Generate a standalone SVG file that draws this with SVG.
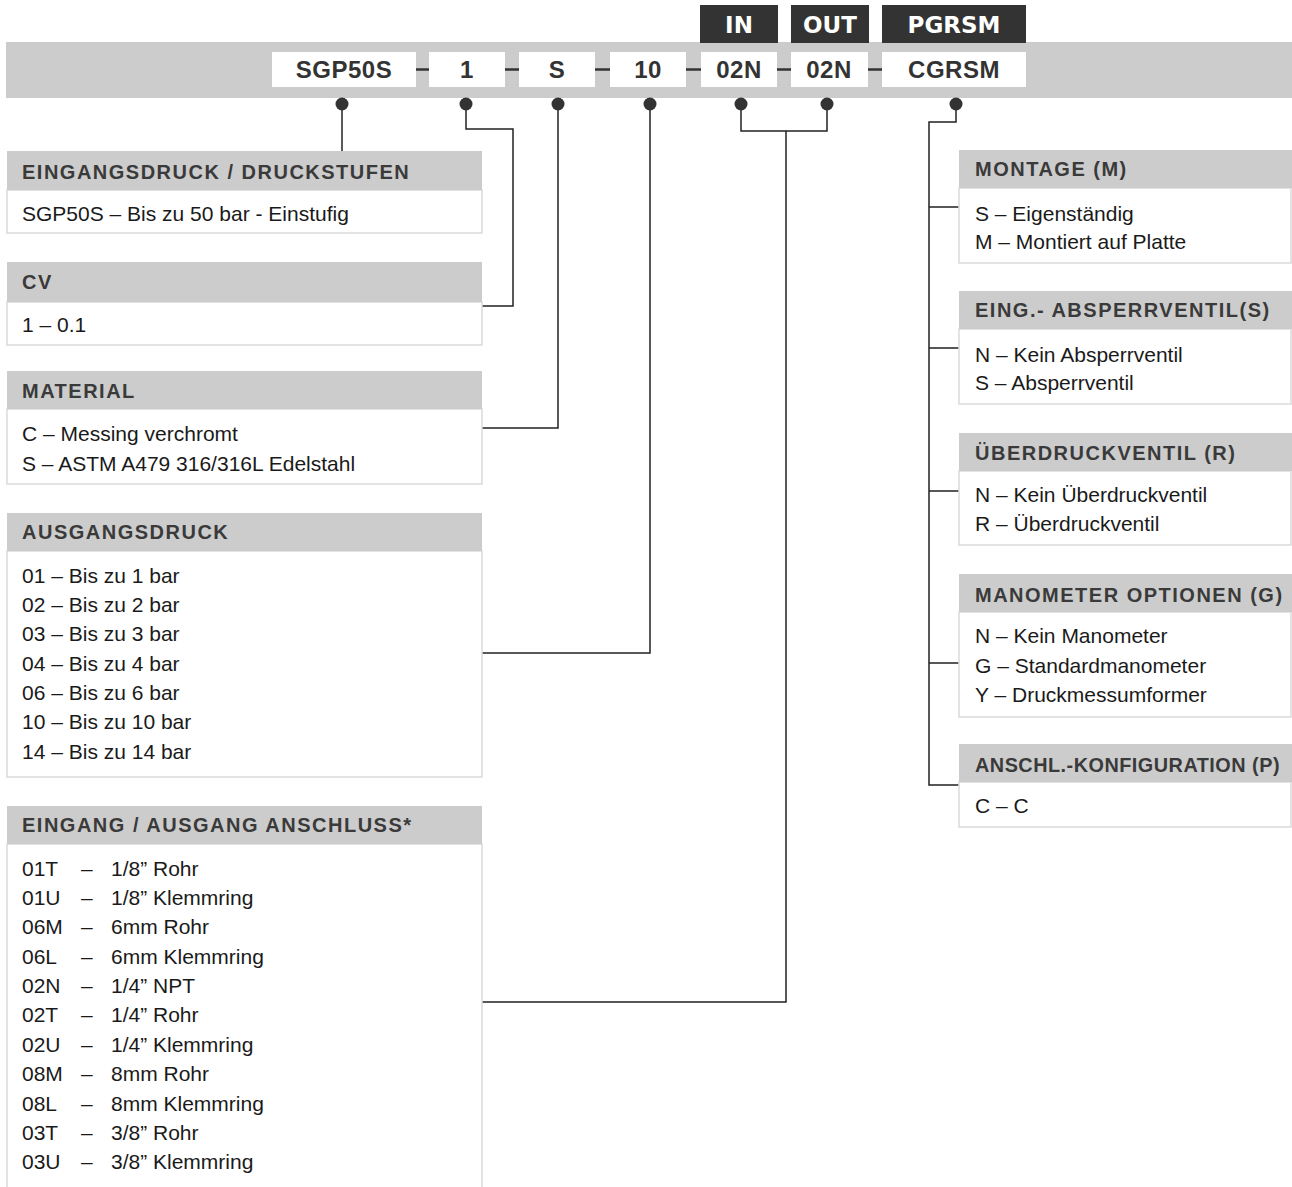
<svg xmlns="http://www.w3.org/2000/svg" width="1292" height="1187" viewBox="0 0 1292 1187">
<style>
.bar{fill:#cccccc}
.code{fill:#ffffff}
.codet{font-family:'Liberation Sans',Arial,sans-serif;font-weight:bold;font-size:24px;fill:#333333;text-anchor:middle;letter-spacing:0.5px}
.tag{fill:#333333}
.tagt{font-family:'DejaVu Sans',Verdana,sans-serif;font-weight:bold;font-size:23px;fill:#ffffff;text-anchor:middle}
.hd{fill:#cccccc}
.bd{fill:#ffffff;stroke:#dadada;stroke-width:1.5}
.ht{font-family:'Liberation Sans',Arial,sans-serif;font-weight:bold;font-size:20px;fill:#3a3a3a;letter-spacing:1.5px}
.bt{font-family:'Liberation Sans',Arial,sans-serif;font-size:21px;fill:#1a1a1a}
.ln{fill:none;stroke:#222222;stroke-width:1.5}
.dash{stroke:#333333;stroke-width:2.5}
.dot{fill:#333333}
</style>
<rect width="1292" height="1187" fill="#ffffff"/>
<g id="header-bar">
<rect class="bar" x="6" y="42" width="1286" height="56"/>
<rect class="tag" x="700" y="5" width="78" height="38"/>
<rect class="tag" x="791" y="5" width="78" height="38"/>
<rect class="tag" x="882" y="5" width="144" height="38"/>
<text class="tagt" x="739" y="33">IN</text>
<text class="tagt" x="830" y="33">OUT</text>
<text class="tagt" x="954" y="33">PGRSM</text>
<line class="dash" x1="416" y1="69.5" x2="429" y2="69.5"/>
<line class="dash" x1="505" y1="69.5" x2="519" y2="69.5"/>
<line class="dash" x1="595" y1="69.5" x2="610" y2="69.5"/>
<line class="dash" x1="686" y1="69.5" x2="701" y2="69.5"/>
<line class="dash" x1="777" y1="69.5" x2="791" y2="69.5"/>
<line class="dash" x1="868" y1="69.5" x2="882" y2="69.5"/>
</g>
<g id="code-sgp50s"><rect class="code" x="272" y="52" width="144" height="35"/><text class="codet" x="344" y="78">SGP50S</text></g>
<g id="code-1"><rect class="code" x="429" y="52" width="76" height="35"/><text class="codet" x="467" y="78">1</text></g>
<g id="code-s"><rect class="code" x="519" y="52" width="76" height="35"/><text class="codet" x="557" y="78">S</text></g>
<g id="code-10"><rect class="code" x="610" y="52" width="76" height="35"/><text class="codet" x="648" y="78">10</text></g>
<g id="code-in"><rect class="code" x="701" y="52" width="76" height="35"/><text class="codet" x="739" y="78">02N</text></g>
<g id="code-out"><rect class="code" x="791" y="52" width="77" height="35"/><text class="codet" x="829" y="78">02N</text></g>
<g id="code-cgrsm"><rect class="code" x="882" y="52" width="144" height="35"/><text class="codet" x="954" y="78">CGRSM</text></g>

<g id="connectors">
<path class="ln" d="M342 104 V151"/>
<path class="ln" d="M466 104 V129 H513 V306 H482"/>
<path class="ln" d="M558 104 V428 H482"/>
<path class="ln" d="M650 104 V653 H482"/>
<path class="ln" d="M741 104 V131 H827 V104"/>
<path class="ln" d="M786 131 V1002 H482"/>
<path class="ln" d="M956 104 V122 H929 V785 H959"/>
<path class="ln" d="M929 207 H959 M929 348 H959 M929 491 H959 M929 663 H959"/>
<circle class="dot" cx="342" cy="104" r="6.5"/>
<circle class="dot" cx="466" cy="104" r="6.5"/>
<circle class="dot" cx="558" cy="104" r="6.5"/>
<circle class="dot" cx="650" cy="104" r="6.5"/>
<circle class="dot" cx="741" cy="104" r="6.5"/>
<circle class="dot" cx="827" cy="104" r="6.5"/>
<circle class="dot" cx="956" cy="104" r="6.5"/>
</g>

<g id="box-eingangsdruck">
<rect class="bd" x="7" y="190" width="475" height="43"/>
<rect class="hd" x="7" y="151" width="475" height="39"/>
<text class="ht" x="22" y="179">EINGANGSDRUCK / DRUCKSTUFEN</text>
<text class="bt" x="22" y="221">SGP50S – Bis zu 50 bar - Einstufig</text>
</g>
<g id="box-cv">
<rect class="bd" x="7" y="302" width="475" height="43"/>
<rect class="hd" x="7" y="262" width="475" height="40"/>
<text class="ht" x="22" y="289">CV</text>
<text class="bt" x="22" y="332">1 – 0.1</text>
</g>
<g id="box-material">
<rect class="bd" x="7" y="409" width="475" height="75"/>
<rect class="hd" x="7" y="371" width="475" height="38"/>
<text class="ht" x="22" y="398">MATERIAL</text>
<text class="bt" x="22" y="441">C – Messing verchromt</text>
<text class="bt" x="22" y="471">S – ASTM A479 316/316L Edelstahl</text>
</g>
<g id="box-ausgangsdruck">
<rect class="bd" x="7" y="551" width="475" height="226"/>
<rect class="hd" x="7" y="513" width="475" height="38"/>
<text class="ht" x="22" y="539">AUSGANGSDRUCK</text>
<text class="bt" x="22" y="583">01 – Bis zu 1 bar</text>
<text class="bt" x="22" y="612">02 – Bis zu 2 bar</text>
<text class="bt" x="22" y="641">03 – Bis zu 3 bar</text>
<text class="bt" x="22" y="671">04 – Bis zu 4 bar</text>
<text class="bt" x="22" y="700">06 – Bis zu 6 bar</text>
<text class="bt" x="22" y="729">10 – Bis zu 10 bar</text>
<text class="bt" x="22" y="759">14 – Bis zu 14 bar</text>
</g>
<g id="box-anschluss">
<rect class="bd" x="7" y="844" width="475" height="360"/>
<rect class="hd" x="7" y="806" width="475" height="38"/>
<text class="ht" x="22" y="832">EINGANG / AUSGANG ANSCHLUSS*</text>
<g class="bt">
<text x="22" y="876">01T</text><text x="81" y="876">–</text><text x="111" y="876">1/8” Rohr</text>
<text x="22" y="905">01U</text><text x="81" y="905">–</text><text x="111" y="905">1/8” Klemmring</text>
<text x="22" y="934">06M</text><text x="81" y="934">–</text><text x="111" y="934">6mm Rohr</text>
<text x="22" y="964">06L</text><text x="81" y="964">–</text><text x="111" y="964">6mm Klemmring</text>
<text x="22" y="993">02N</text><text x="81" y="993">–</text><text x="111" y="993">1/4” NPT</text>
<text x="22" y="1022">02T</text><text x="81" y="1022">–</text><text x="111" y="1022">1/4” Rohr</text>
<text x="22" y="1052">02U</text><text x="81" y="1052">–</text><text x="111" y="1052">1/4” Klemmring</text>
<text x="22" y="1081">08M</text><text x="81" y="1081">–</text><text x="111" y="1081">8mm Rohr</text>
<text x="22" y="1111">08L</text><text x="81" y="1111">–</text><text x="111" y="1111">8mm Klemmring</text>
<text x="22" y="1140">03T</text><text x="81" y="1140">–</text><text x="111" y="1140">3/8” Rohr</text>
<text x="22" y="1169">03U</text><text x="81" y="1169">–</text><text x="111" y="1169">3/8” Klemmring</text>
</g>
</g>

<g id="box-montage">
<rect class="bd" x="959" y="188" width="332" height="75"/>
<rect class="hd" x="959" y="150" width="333" height="38"/>
<text class="ht" x="975" y="176">MONTAGE (M)</text>
<text class="bt" x="975" y="221">S – Eigenständig</text>
<text class="bt" x="975" y="249">M – Montiert auf Platte</text>
</g>
<g id="box-absperrventil">
<rect class="bd" x="959" y="329" width="332" height="75"/>
<rect class="hd" x="959" y="291" width="333" height="38"/>
<text class="ht" x="975" y="317">EING.- ABSPERRVENTIL(S)</text>
<text class="bt" x="975" y="362">N – Kein Absperrventil</text>
<text class="bt" x="975" y="390">S – Absperrventil</text>
</g>
<g id="box-ueberdruckventil">
<rect class="bd" x="959" y="471" width="332" height="74"/>
<rect class="hd" x="959" y="433" width="333" height="38"/>
<text class="ht" x="975" y="460">ÜBERDRUCKVENTIL (R)</text>
<text class="bt" x="975" y="502">N – Kein Überdruckventil</text>
<text class="bt" x="975" y="531">R – Überdruckventil</text>
</g>
<g id="box-manometer">
<rect class="bd" x="959" y="612" width="332" height="105"/>
<rect class="hd" x="959" y="574" width="333" height="38"/>
<text class="ht" x="975" y="602">MANOMETER OPTIONEN (G)</text>
<text class="bt" x="975" y="643">N – Kein Manometer</text>
<text class="bt" x="975" y="673">G – Standardmanometer</text>
<text class="bt" x="975" y="702">Y – Druckmessumformer</text>
</g>
<g id="box-anschlusskonfiguration">
<rect class="bd" x="959" y="782" width="332" height="45"/>
<rect class="hd" x="959" y="744" width="333" height="38"/>
<text class="ht" x="975" y="772" style="letter-spacing:0.5px" textLength="305" lengthAdjust="spacingAndGlyphs">ANSCHL.-KONFIGURATION (P)</text>
<text class="bt" x="975" y="813">C – C</text>
</g>
</svg>
